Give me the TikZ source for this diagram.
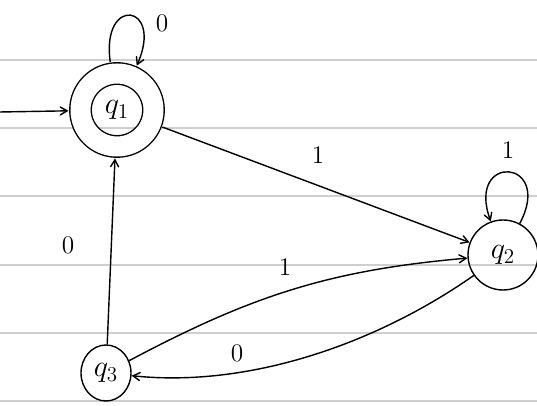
\documentclass[tikz,border=0pt]{standalone}
\usetikzlibrary{shapes,arrows,positioning,backgrounds,calc}
\usepackage{amssymb,amsmath}

\begin{document}
\begin{tikzpicture}

 \tikzset{
   state/.style={circle, draw=black, thick, inner sep=0pt, font=\LARGE},
   accept/.style={state, double, double distance=0.40cm, minimum size=1.46cm, outer sep=0.24cm},
   lbl/.style={font=\Large},
   paperline/.style={draw=gray!38, line width=0.6pt},
   arrow/.style={->, >=angle 60, thick}
 }

 % frame of the page
 \useasboundingbox (0,0) rectangle (10.74,8.12);

 % State positions
 \def\xposA{2.34}  \def\yposA{5.92}
 \def\xposB{10.06} \def\yposB{3.02}
 \def\xposC{2.12}  \def\yposC{0.66}

 % States
 \node[accept] (q1) at (\xposA, \yposA) {$q_1$};
 \node[state, minimum size=1.4cm] (q2) at (\xposB, \yposB) {$q_2$};
 \node[state, minimum width=1.0cm, minimum height=1.12cm, ellipse] (q3) at (\xposC, \yposC) {$q_3$};

 % start arrow
 \coordinate (start) at (0, 5.88);

 % Arrows
 \draw[arrow] (start) -- (q1);
 \draw[arrow] (q1) to[out=98, in=66, looseness=6.5] (q1);
 \draw[arrow] (q1) -- (q2);
 \draw[arrow] (q2) to[out=62, in=110, looseness=6.5] (q2);
 \draw[arrow] (q3) -- (q1);
 \draw[arrow] (q3) to[out=28, in=185] (q2);
 \draw[arrow] (q2) to[out=215, in=354, looseness=0.85] (q3);

 % Labels
 \node[lbl] (l11) at (3.24, 7.66) {0};
 \node[lbl] (l12) at (6.36, 5.02) {1};
 \node[lbl] (l22) at (10.16, 5.12) {1};
 \node[lbl] (l31) at (1.36, 3.22) {0};
 \node[lbl] (l32) at (5.7, 2.78) {1};
 \node[lbl] (l23) at (4.74, 1.06) {0};

 % ruled paper
 \begin{scope}[on background layer]
 \draw[paperline] (0,6.92) -- (10.74,6.92) (0,5.56) -- (10.74,5.56)
   (0,4.2) -- (10.74,4.2) (0,2.82) -- (10.74,2.82)
   (0,1.46) -- (10.74,1.46) (0,0.1) -- (10.74,0.1);
 \end{scope}

\end{tikzpicture}
\end{document}
